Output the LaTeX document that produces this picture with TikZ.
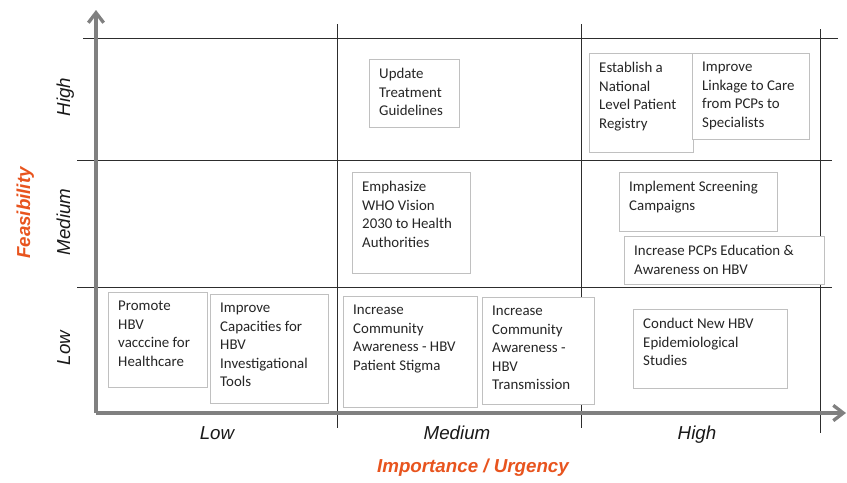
\documentclass[tikz,border=0pt]{standalone}
\usepackage{fontspec}
\setmainfont{Liberation Sans}
\newfontfamily\boxfont{Carlito}
\usetikzlibrary{arrows.meta}
\definecolor{AxisGray}{RGB}{128,128,128}
\definecolor{GridDark}{RGB}{45,45,45}
\definecolor{BoxGray}{RGB}{192,192,192}
\definecolor{MyOrange}{RGB}{232,84,30}

\begin{document}
\begin{tikzpicture}[x=0.3mm,y=-0.3mm,
    gridline/.style={GridDark,line width=0.3mm},
    axisline/.style={AxisGray,line width=1mm,-{Straight Barb[length=3mm,width=4.6mm]}},
    ideabox/.style={draw=BoxGray,fill=white,line width=0.3mm},
    ideatext/.style={anchor=north west,inner sep=0pt,align=left,text=black!85,font=\boxfont\fontsize{12.7}{15.8}\selectfont},
    levellabel/.style={anchor=base,text=black!90,font=\itshape\fontsize{16}{19}\selectfont},
    axistitle/.style={anchor=base,text=MyOrange,font=\bfseries\itshape\fontsize{16}{19}\selectfont}]
    \useasboundingbox (0,0) rectangle (847,482);
    \draw[gridline] (83,38) -- (838,38);
    \draw[gridline] (77,160) -- (832,160);
    \draw[gridline] (77,287) -- (832,287);
    \draw[gridline] (337,24) -- (337,428);
    \draw[gridline] (581,24) -- (581,428);
    \draw[gridline] (820,29) -- (820,433);
    \draw[axisline] (96,413) -- (96,10);
    \draw[axisline] (96,413) -- (846,413);

    \filldraw[ideabox] (369,59) rectangle (459,127);
    \node[ideatext] (upd) at (379,68) {Update\\Treatment\\Guidelines};
    \filldraw[ideabox] (589,53) rectangle (693,152);
    \node[ideatext] (reg) at (599,62) {Establish a\\National\\Level Patient\\Registry};
    \filldraw[ideabox] (692,53) rectangle (809,139);
    \node[ideatext] (link) at (702,62) {Improve\\Linkage to Care\\from PCPs to\\Specialists};
    \filldraw[ideabox] (352,172) rectangle (470,273);
    \node[ideatext] (who) at (362,181) {Emphasize\\WHO Vision\\2030 to Health\\Authorities};
    \filldraw[ideabox] (619,172) rectangle (777,231);
    \node[ideatext] (scr) at (629,181) {Implement Screening\\Campaigns};
    \filldraw[ideabox] (624,236) rectangle (824,284);
    \node[ideatext] (pcp) at (634,245) {Increase PCPs Education \&\\Awareness on HBV};
    \filldraw[ideabox] (108,292) rectangle (207,387);
    \node[ideatext] (vac) at (118,301) {Promote\\HBV\\vacccine for\\Healthcare};
    \filldraw[ideabox] (210,294) rectangle (328,403);
    \node[ideatext] (tools) at (220,303) {Improve\\Capacities for\\HBV\\Investigational\\Tools};
    \filldraw[ideabox] (343,296) rectangle (477,407);
    \node[ideatext] (stig) at (353,305) {Increase\\Community\\Awareness - HBV\\Patient Stigma};
    \filldraw[ideabox] (482,297) rectangle (594,404);
    \node[ideatext] (trans) at (492,306) {Increase\\Community\\Awareness -\\HBV\\Transmission};
    \filldraw[ideabox] (633,309) rectangle (787,388);
    \node[ideatext] (epi) at (643,318) {Conduct New HBV\\Epidemiological\\Studies};

    \node[levellabel,rotate=90] (fh) at (70,97) {High};
    \node[levellabel,rotate=90] (fm) at (70,222) {Medium};
    \node[levellabel,rotate=90] (fl) at (70,348) {Low};
    \node[levellabel] (il) at (217,439) {Low};
    \node[levellabel] (im) at (457,439) {Medium};
    \node[levellabel] (ih) at (697,439) {High};
    \node[axistitle,rotate=90] (feas) at (30,213) {Feasibility};
    \node[axistitle] (imp) at (473,472) {Importance / Urgency};
\end{tikzpicture}
\end{document}
